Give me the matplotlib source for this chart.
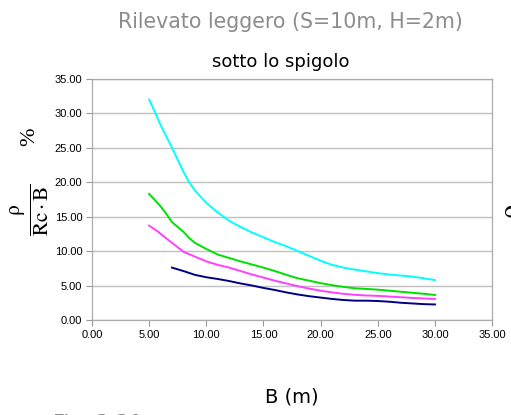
import matplotlib
matplotlib.use("Agg")
import matplotlib.pyplot as plt

# B (m) and rho/(Rc*B) %, one list per curve
b_cyan = [5, 5.5, 6, 7, 8, 8.5, 9, 10, 11, 12, 13, 14, 15, 16, 17, 18, 19, 20,
          21, 22, 23, 24, 25, 26, 27, 28, 29, 30]
v_cyan = [32.0, 30.2, 28.3, 25.0, 21.5, 20.0, 18.8, 17.0, 15.6, 14.4, 13.5, 12.7,
          12.0, 11.3, 10.7, 10.0, 9.3, 8.6, 8.0, 7.6, 7.3, 7.05, 6.8, 6.6, 6.45,
          6.3, 6.05, 5.8]

b_green = [5, 6, 6.5, 7, 8, 8.5, 9, 10, 11, 12, 13, 14, 15, 16, 17, 18, 19, 20,
           21, 22, 23, 24, 25, 26, 27, 28, 29, 30]
v_green = [18.3, 16.5, 15.4, 14.2, 12.8, 11.9, 11.2, 10.3, 9.5, 9.0, 8.5, 8.05,
           7.6, 7.1, 6.55, 6.05, 5.7, 5.35, 5.05, 4.8, 4.6, 4.5, 4.4, 4.25, 4.1,
           3.95, 3.8, 3.63]

b_magenta = [5, 5.8, 6, 7, 7.7, 8, 9, 10, 11, 12, 13, 14, 15, 16, 17, 18, 19, 20,
             21, 22, 23, 24, 25, 26, 27, 28, 29, 30]
v_magenta = [13.7, 12.8, 12.5, 11.2, 10.3, 9.9, 9.2, 8.5, 8.0, 7.6, 7.1, 6.6,
             6.15, 5.7, 5.3, 4.9, 4.55, 4.25, 4.0, 3.8, 3.65, 3.55, 3.5, 3.4, 3.3,
             3.2, 3.12, 3.05]

b_navy = [7, 8, 9, 10, 11, 12, 13, 14, 15, 16, 17, 18, 19, 20, 21, 22, 23, 24,
          25, 26, 27, 28, 29, 30]
v_navy = [7.6, 7.1, 6.55, 6.2, 5.95, 5.65, 5.3, 5.0, 4.65, 4.35, 4.0, 3.7, 3.45,
          3.25, 3.05, 2.9, 2.8, 2.8, 2.75, 2.65, 2.5, 2.4, 2.3, 2.25]

ticks = [0, 5, 10, 15, 20, 25, 30, 35]

plt.rcParams["mathtext.fontset"] = "stix"

fig = plt.figure(figsize=(5.11, 4.15), dpi=100)
ax = fig.add_axes([0.180, 0.229, 0.783, 0.581])

ax.plot(b_cyan, v_cyan, color="#00ffff", lw=1.4)
ax.plot(b_green, v_green, color="#00e000", lw=1.4)
ax.plot(b_magenta, v_magenta, color="#ff40ff", lw=1.4)
ax.plot(b_navy, v_navy, color="#000080", lw=1.4)

ax.set_xlim(0, 35)
ax.set_ylim(0, 35)
ax.set_xticks(ticks)
ax.set_yticks(ticks)
ax.set_xticklabels(["%.2f" % t for t in ticks], family="Liberation Sans", fontsize=8)
ax.set_yticklabels(["%.2f" % t for t in ticks], family="Liberation Sans", fontsize=8)
ax.tick_params(length=4, width=0.8, color="#999999", pad=3)
ax.grid(True, axis="y", color="#c0c0c0", lw=1)
for s in ax.spines.values():
    s.set_color("#aaaaaa")
    s.set_linewidth(0.9)

fig.text(290 / 511, 1 - 22 / 415, "Rilevato leggero (S=10m, H=2m)",
         ha="center", va="center", fontsize=14.8, color="#8c8c8c")
fig.text(281 / 511, 1 - 62 / 415, "sotto lo spigolo",
         ha="center", va="center", fontsize=13, color="black")
fig.text(292 / 511, 1 - 397 / 415, "B (m)",
         ha="center", va="center", fontsize=14, color="black")
fig.text(53 / 511, 1 - 424 / 415, "Fig. 3.30",
         ha="left", va="center", fontsize=15, color="#8c8c8c")

fig.text(30 / 511, 1 - 210 / 415, r"$\frac{\mathrm{ρ}}{\mathrm{Rc\cdot B}}$",
         ha="center", va="center", rotation=90, fontsize=22)
fig.text(30 / 511, 1 - 137 / 415, "%", family="Liberation Serif",
         ha="center", va="center", rotation=90, fontsize=16)
fig.text(514 / 511, 1 - 212 / 415, r"$\mathrm{ρ}$",
         ha="center", va="center", rotation=90, fontsize=22)

fig.savefig("out.png", dpi=100)
